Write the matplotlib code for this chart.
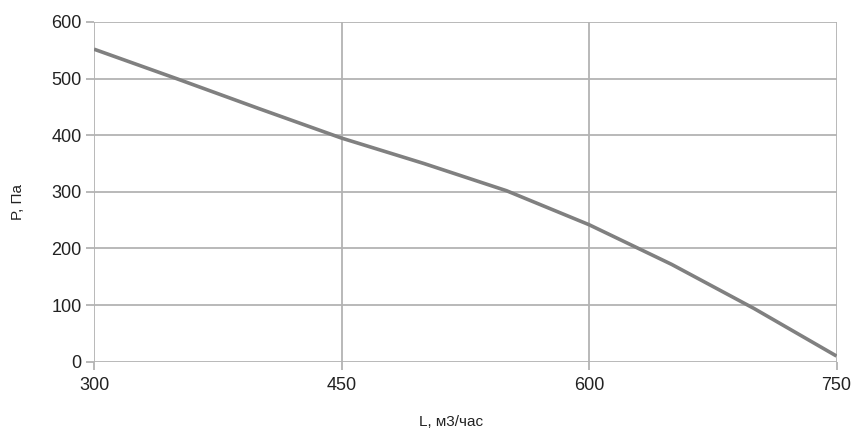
import matplotlib
matplotlib.use("Agg")
import matplotlib.pyplot as plt

flow = [300, 350, 400, 450, 500, 550, 600, 650, 700, 750]
pressure = [552, 500, 447, 395, 350, 302, 242, 172, 94, 10]
x_ticks = [300, 450, 600, 750]
y_ticks = [0, 100, 200, 300, 400, 500, 600]

plt.rcParams['font.family'] = ['Liberation Sans', 'DejaVu Sans']

fig = plt.figure(figsize=(8.56, 4.33), dpi=100)
ax = fig.add_axes([94/856, (433-361.7)/433, (836.5-94)/856, (361.7-22)/433])

ax.plot(flow, pressure, color='#808080', linewidth=2.6, solid_capstyle='butt', zorder=3)

ax.set_xlim(300, 750)
ax.set_ylim(0, 600)
ax.set_xticks(x_ticks)
ax.set_yticks(y_ticks)
ax.grid(True, color='#b3b3b3', linewidth=1.3)
for s in ax.spines.values():
    s.set_visible(False)
ax.tick_params(axis='both', length=6, width=1.3, color='#b3b3b3', labelsize=13, labelcolor='#222222')
ax.tick_params(axis='x', pad=5)
ax.tick_params(axis='y', pad=3)

ax.set_xlabel('L, м3/час', fontsize=11, color='#222222')
ax.set_ylabel('P, Па', fontsize=11, color='#222222')
ax.xaxis.set_label_coords((451-94)/(836.5-94), -(415-361.7)/(361.7-22))
ax.yaxis.set_label_coords((25-94)/(836.5-94), (361.7-202)/(361.7-22))

fig.savefig('out.png', dpi=100)
